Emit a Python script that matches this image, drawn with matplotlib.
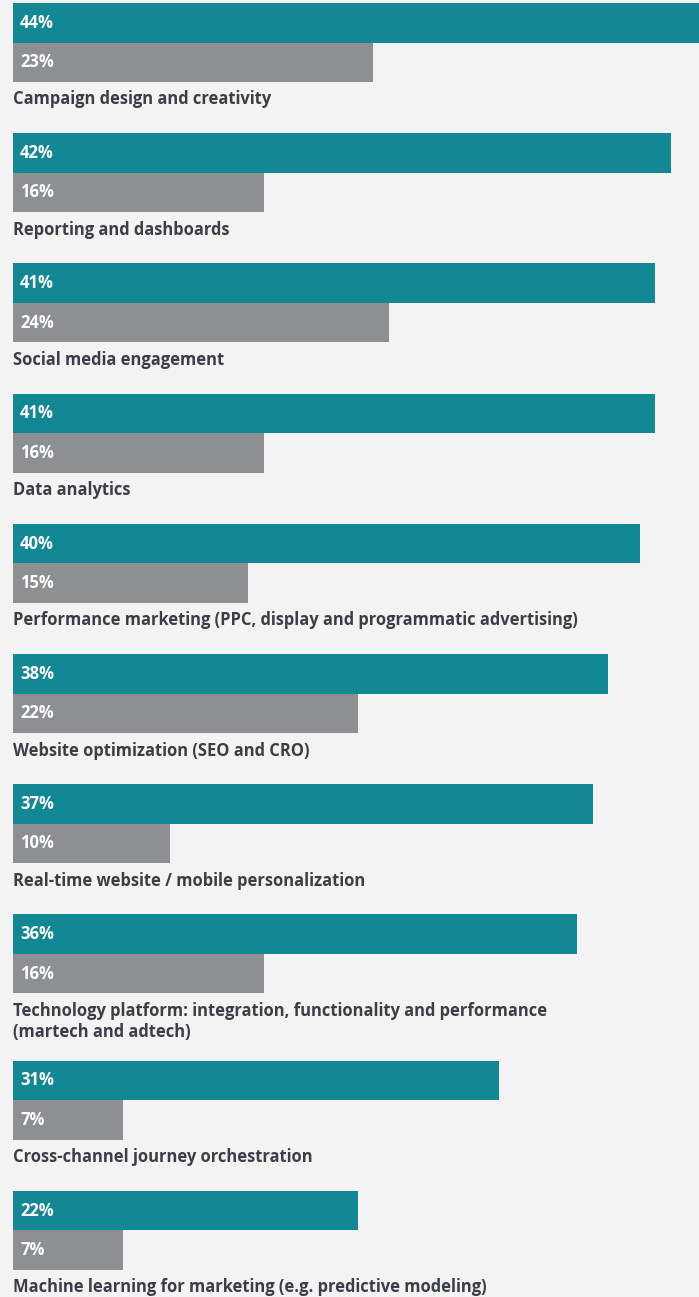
import matplotlib.pyplot as plt

categories = [
    "Campaign design and creativity",
    "Reporting and dashboards",
    "Social media engagement",
    "Data analytics",
    "Performance marketing (PPC, display and programmatic advertising)",
    "Website optimization (SEO and CRO)",
    "Real-time website / mobile personalization",
    "Technology platform: integration, functionality and performance\n(martech and adtech)",
    "Cross-channel journey orchestration",
    "Machine learning for marketing (e.g. predictive modeling)",
]
series_a = [44, 42, 41, 41, 40, 38, 37, 36, 31, 22]
series_b = [23, 16, 24, 16, 15, 22, 10, 16, 7, 7]

TEAL = "#118893"
GRAY = "#8d8f93"
BG = "#f3f3f3"
TEXT = "#3b3e46"

W, H = 699, 1297
px_per_pct = 15.67
left_px = 13

fig = plt.figure(figsize=(W / 100, H / 100), dpi=100, facecolor=BG)
ax = fig.add_axes([0, 0, 1, 1])
ax.set_facecolor(BG)
# x in percent, y in pixel rows from the top
ax.set_xlim(-left_px / px_per_pct, (W - left_px) / px_per_pct)
ax.set_ylim(H, 0)
ax.axis("off")

bar_h = 39.5
group_step = 130.2
line_step = 21
top = 3

for cat, a, b in zip(categories, series_a, series_b):
    ax.barh(top + bar_h / 2, a, height=bar_h, left=0, color=TEAL, linewidth=0)
    ax.barh(top + bar_h * 1.5, b, height=bar_h, left=0, color=GRAY, linewidth=0)
    for val, yc in ((a, top + bar_h / 2), (b, top + bar_h * 1.5)):
        ax.text(0.45, yc, f"{val}%", color="white", fontsize=12,
                fontweight="bold", family="Open Sans", va="center", ha="left")
    lines = cat.split("\n")
    for i, ln in enumerate(lines):
        ax.text(0, top + 2 * bar_h + 17.5 + i * line_step, ln, color=TEXT,
                fontsize=11.9, fontweight="bold", family="Open Sans",
                va="center", ha="left")
    top += group_step + (len(lines) - 1) * 16

fig.savefig("out.png", dpi=100, facecolor=BG)
